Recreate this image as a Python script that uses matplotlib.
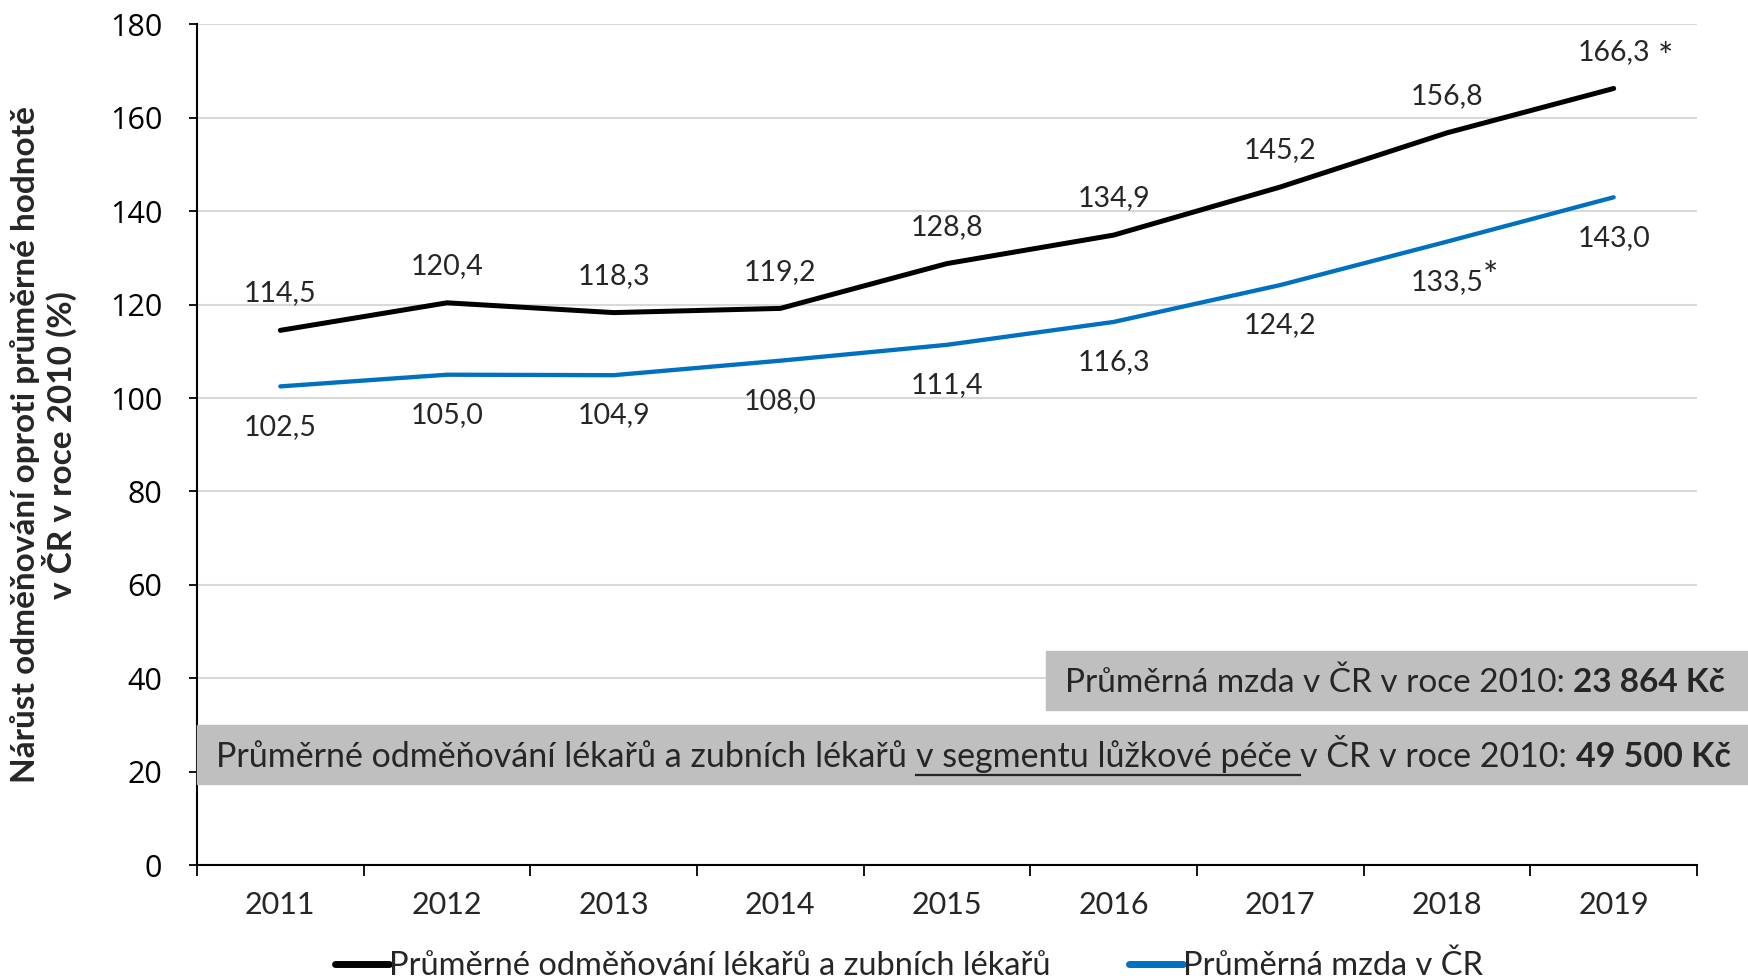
import numpy as np
import matplotlib
matplotlib.use("Agg")
import matplotlib.pyplot as plt
from matplotlib.patches import Rectangle

# data
years = ["2011", "2012", "2013", "2014", "2015", "2016", "2017", "2018", "2019"]
doctors = [114.5, 120.4, 118.3, 119.2, 128.8, 134.9, 145.2, 156.8, 166.3]
wage = [102.5, 105.0, 104.9, 108.0, 111.4, 116.3, 124.2, 133.5, 143.0]
doctors_star = [False, False, False, False, False, False, False, False, True]
wage_star = [False, False, False, False, False, False, False, True, False]

label_doc = "Průměrné odměňování lékařů a zubních lékařů"
label_wage = "Průměrná mzda v ČR"
ylabel = "Nárůst odměňování oproti průměrné hodnotě\nv ČR v roce 2010 (%)"

FONT = "Lato"
TXT = "#262626"
BLUE = "#0070C0"
GRID = "#D9D9D9"
BOX = "#BFBFBF"

plt.rcParams["font.family"] = [FONT, "DejaVu Sans"]

W, H = 1748, 980
fig = plt.figure(figsize=(W / 100, H / 100), dpi=100)
ax = fig.add_axes([197 / W, 1 - 865 / H, 1500 / W, 840.5 / H])

x = np.arange(len(years))
ax.plot(x, doctors, color="black", lw=3.6, solid_capstyle="round", label=label_doc, zorder=3)
ax.plot(x, wage, color=BLUE, lw=3.1, solid_capstyle="round", label=label_wage, zorder=3)

def fmt(v):
    return f"{v:.1f}".replace(".", ",")

for i, v in enumerate(doctors):
    ax.annotate(fmt(v), (x[i], v), xytext=(0, 26.5), textcoords="offset points",
                ha="center", va="center", fontsize=20.5, color=TXT)
    if doctors_star[i]:
        ax.annotate("*", (x[i], v), xytext=(37, 21.5), textcoords="offset points",
                    ha="center", va="center", fontsize=26, color=TXT)
for i, v in enumerate(wage):
    ax.annotate(fmt(v), (x[i], v), xytext=(0, -29), textcoords="offset points",
                ha="center", va="center", fontsize=20.5, color=TXT)
    if wage_star[i]:
        ax.annotate("*", (x[i], v), xytext=(31, -25.5), textcoords="offset points",
                    ha="center", va="center", fontsize=26, color=TXT)

ax.set_xlim(-0.5, len(years) - 0.5)
ax.set_ylim(0, 180)
ax.set_yticks(np.arange(0, 181, 20))
ax.set_xticks(x)
ax.set_xticklabels(years)
ax.set_xticks(np.arange(-0.5, len(years), 1), minor=True)
ax.tick_params(axis="x", which="major", length=0, pad=19, labelsize=22, labelcolor=TXT)
ax.tick_params(axis="x", which="minor", length=8, width=1.3, direction="out", color="black")
ax.tick_params(axis="y", length=6, width=1.3, pad=19, labelsize=22, labelcolor="black")
for lab in ax.get_yticklabels():
    lab.set_fontfamily(["Open Sans", "DejaVu Sans"])

ax.yaxis.grid(True, color=GRID, lw=1.5)
ax.set_axisbelow(True)
for s in ["top", "right"]:
    ax.spines[s].set_visible(False)
ax.spines["left"].set_linewidth(1.5)
ax.spines["bottom"].set_linewidth(1.5)
ax.spines["left"].set_zorder(5)

ax.set_ylabel(ylabel, fontsize=24, fontweight="bold", color=TXT, labelpad=24, linespacing=1.05)

# annotation boxes
renderer = fig.canvas.get_renderer()

def place_pieces(pieces, x0, yc, size=24):
    """pieces: list of (text, weight, underline); x0, yc in pixels"""
    sp = fig.text(0, 0, "a a", fontsize=size)
    nsp = fig.text(0, 0, "aa", fontsize=size)
    space = sp.get_window_extent(renderer).width - nsp.get_window_extent(renderer).width
    sp.remove()
    nsp.remove()
    cur = x0
    for txt, weight, under in pieces:
        t = fig.text(cur / W, yc / H, txt, fontsize=size, fontweight=weight, color=TXT,
                     ha="left", va="center", zorder=6)
        bb = t.get_window_extent(renderer)
        if under:
            uy = yc - 18
            fig.add_artist(plt.Line2D([cur / W, (bb.x1 + space) / W], [uy / H, uy / H],
                                      color=TXT, lw=1.6, zorder=6))
        cur = bb.x1 + space

fig.add_artist(Rectangle((1046 / W, 1 - 710 / H), (W - 1046) / W, 59 / H,
                         transform=fig.transFigure, color=BOX, zorder=5))
fig.add_artist(Rectangle((197 / W, 1 - 784 / H), (W - 197) / W, 59 / H,
                         transform=fig.transFigure, color=BOX, zorder=5))

place_pieces([("Průměrná mzda v ČR v roce 2010:", "normal", False),
              ("23 864 Kč", "bold", False)], 1065, H - 683)
place_pieces([("Průměrné odměňování lékařů a zubních lékařů", "normal", False),
              ("v segmentu lůžkové péče", "normal", True),
              ("v ČR v roce 2010:", "normal", False),
              ("49 500 Kč", "bold", False)], 216, H - 757, size=24.5)

leg = fig.legend(loc="center", bbox_to_anchor=(909 / W, 1 - 966 / H), ncol=2, frameon=False,
                 fontsize=23.5, handlelength=1.65, handletextpad=0.0, columnspacing=2.4,
                 labelcolor=TXT)
for h in leg.get_lines():
    h.set_linewidth(5)

fig.savefig("out.png", dpi=100)
